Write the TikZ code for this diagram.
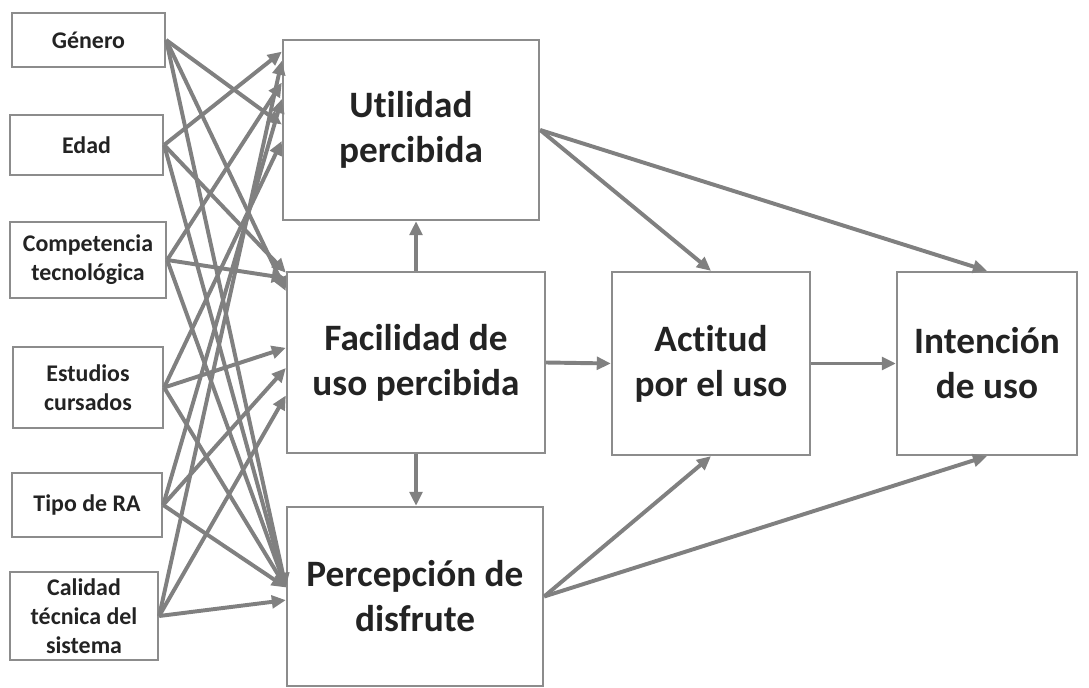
\documentclass[tikz,border=0pt]{standalone}
\usepackage{fontspec}
\setmainfont[Ligatures=NoCommon]{Carlito}
\usetikzlibrary{arrows.meta,calc}
\definecolor{linegray}{RGB}{128,128,128}
\definecolor{boxgray}{RGB}{140,140,140}
\definecolor{txtgray}{RGB}{35,35,35}

\begin{document}
\begin{tikzpicture}[x=0.025cm,y=-0.025cm,
    factor/.style={draw=boxgray,line width=1.6pt,inner sep=0pt,align=center,text=txtgray,font=\fontsize{17}{20.5}\selectfont\bfseries},
    construct/.style={draw=boxgray,line width=1.6pt,inner sep=0pt,align=center,text=txtgray,font=\fontsize{26.5}{32}\selectfont\bfseries},
    arr/.style={draw=linegray,line width=2.8pt,-{Triangle[length=10pt,width=9pt]}}]
    \useasboundingbox (0,0) rectangle (1089,688);
    \node[factor,minimum width=3.825cm,minimum height=1.35cm] (gen) at (88.5,40) {Género};
    \node[factor,minimum width=3.825cm,minimum height=1.5cm] (eda) at (86.5,145) {Edad};
    \node[factor,minimum width=3.9cm,minimum height=1.9cm] (com) at (88,260) {Competencia\\tecnológica};
    \node[factor,minimum width=3.75cm,minimum height=2.025cm] (est) at (88,387.5) {Estudios\\cursados};
    \node[factor,minimum width=3.75cm,minimum height=1.6cm] (tip) at (87,505) {Tipo de RA};
    \node[factor,minimum width=3.7cm,minimum height=2.2cm] (cal) at (84,616) {Calidad\\técnica del\\sistema};
    \node[construct,minimum width=6.4cm,minimum height=4.5cm] (uti) at (411,130) {Utilidad\\percibida};
    \node[construct,minimum width=6.45cm,minimum height=4.525cm] (fac) at (416,362.5) {Facilidad de\\uso percibida};
    \node[construct,minimum width=6.4cm,minimum height=4.475cm] (per) at (415,596.5) {Percepción de\\disfrute};
    \node[construct,minimum width=4.95cm,minimum height=4.575cm] (act) at (711,363.5) {Actitud\\por el uso};
    \node[construct,minimum width=4.5cm,minimum height=4.575cm] (int) at (987,363.5) {Intención\\de uso};
    \draw[arr] (gen.east) -- ($(uti.north west)!0.47!(uti.south west)$);
    \draw[arr] (gen.east) -- ($(fac.north west)!0.11!(fac.south west)$);
    \draw[arr] (gen.east) -- ($(per.north west)!0.45!(per.south west)$);
    \draw[arr] (eda.east) -- ($(uti.north west)!0.07!(uti.south west)$);
    \draw[arr] (eda.east) -- ($(fac.north west)!0.01!(fac.south west)$);
    \draw[arr] (eda.east) -- ($(per.north west)!0.45!(per.south west)$);
    \draw[arr] (com.east) -- ($(uti.north west)!0.24!(uti.south west)$);
    \draw[arr] (com.east) -- ($(fac.north west)!0.04!(fac.south west)$);
    \draw[arr] (com.east) -- ($(per.north west)!0.45!(per.south west)$);
    \draw[arr] (est.east) -- ($(uti.north west)!0.56!(uti.south west)$);
    \draw[arr] (est.east) -- ($(fac.north west)!0.42!(fac.south west)$);
    \draw[arr] (est.east) -- ($(per.north west)!0.45!(per.south west)$);
    \draw[arr] (tip.east) -- ($(uti.north west)!0.33!(uti.south west)$);
    \draw[arr] (tip.east) -- ($(fac.north west)!0.53!(fac.south west)$);
    \draw[arr] (tip.east) -- ($(per.north west)!0.45!(per.south west)$);
    \draw[arr] (cal.east) -- ($(uti.north west)!0.12!(uti.south west)$);
    \draw[arr] (cal.east) -- ($(fac.north west)!0.68!(fac.south west)$);
    \draw[arr] (cal.east) -- ($(per.north west)!0.52!(per.south west)$);
    \draw[arr] (fac.north) -- (fac.north |- uti.south);
    \draw[arr] (fac.south) -- (fac.south |- per.north);
    \draw[arr] (fac.east) -- (act.west);
    \draw[arr] (act.east) -- (int.west);
    \draw[arr] (uti.east) -- (act.north);
    \draw[arr] (uti.east) -- (int.north);
    \draw[arr] (per.east) -- (act.south);
    \draw[arr] (per.east) -- (int.south);
\end{tikzpicture}
\end{document}
